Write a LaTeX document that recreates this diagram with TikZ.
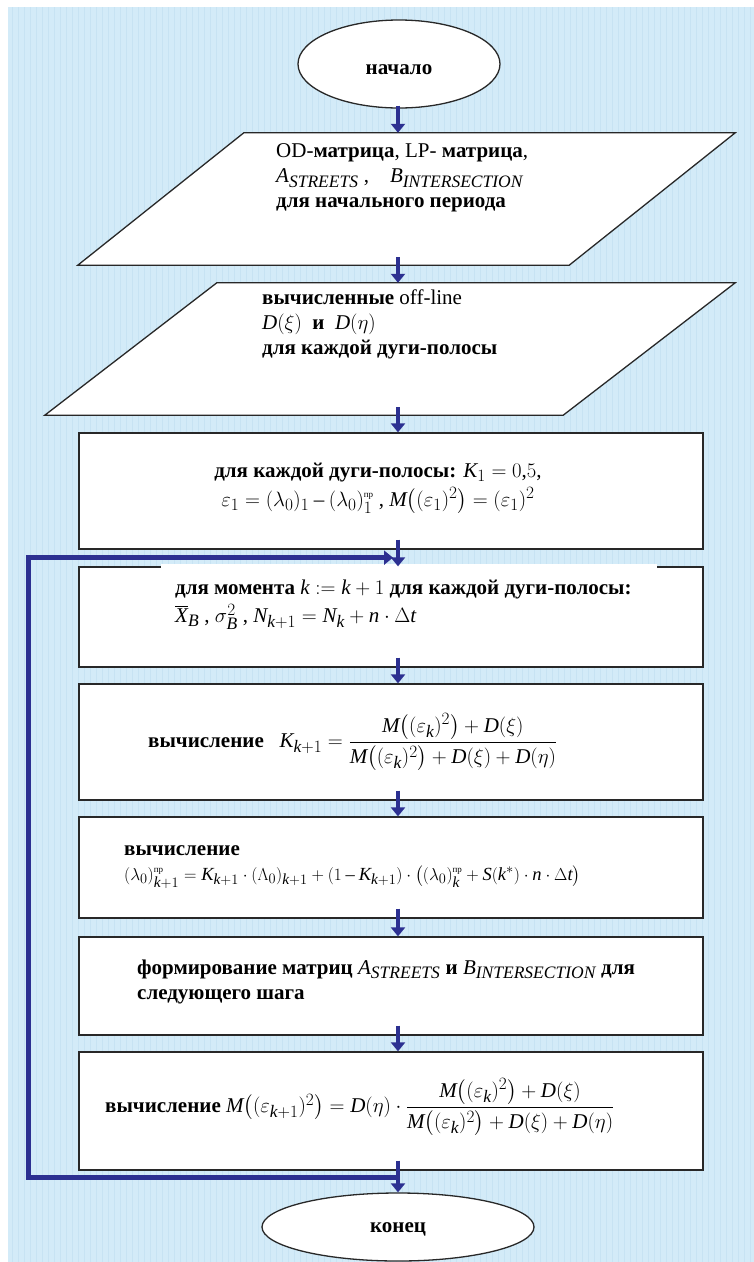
\documentclass[tikz,border=0pt]{standalone}
\usepackage{amsmath}
\usepackage{fontspec}
\setmainfont{Liberation Serif}
\usepackage[italic]{mathastext}
\usetikzlibrary{shapes.geometric,arrows.meta,calc}

\definecolor{bgblue}{RGB}{211,235,248}
\definecolor{bggrid}{RGB}{199,227,243}
\definecolor{flowblue}{RGB}{44,48,145}
\definecolor{edgegray}{RGB}{40,40,40}
\newcommand{\ru}[1]{\textbf{#1}}
\newcommand{\pr}{\mbox{\fontsize{9}{9}\selectfont пр}}

\begin{document}
\begin{tikzpicture}[
        x=1pt, y=-1pt,
        every node/.style={font=\fontsize{21}{25}\selectfont},
        terminal/.style={ellipse, draw=edgegray, fill=white, line width=1.3pt, inner sep=0pt},
        iobox/.style={rectangle, inner sep=0pt},
        ioline/.style={draw=edgegray, fill=white, line width=1.3pt},
        procbox/.style={rectangle, draw=edgegray, fill=white, line width=1.3pt, inner sep=0pt, minimum width=624pt},
        txt/.style={anchor=west, align=left, inner sep=0pt},
        flow/.style={draw=flowblue, line width=4.5pt, -{Triangle[length=9pt,width=14pt]}},
        loopline/.style={draw=flowblue, line width=5pt, -{Triangle[length=9pt,width=14pt]}}
    ]

    % background
    \useasboundingbox (0,0) rectangle (754,1262);
    \fill[white] (0,0) rectangle (754,1262);
    \fill[bgblue] (8,7) rectangle (754,1262);
    \draw[bggrid, line width=0.3pt, step=6] (8,7) grid (754,1262);
    \coordinate (col) at (398,0);

    % start
    \node[terminal, minimum width=202pt, minimum height=88pt] (start) at (399,64) {};
    \node[inner sep=0pt] (starttxt) at (399,70) {\ru{начало}};

    % input blocks (parallelograms over their bounding boxes)
    \node[iobox, minimum width=657pt, minimum height=132pt] (in1) at (406.5,199) {};
    \node[iobox, minimum width=690pt, minimum height=132pt] (in2) at (390,349) {};
    \foreach \n/\s in {in1/166, in2/172}
        \draw[ioline] ($(\n.north west)+(\s,0)$) -- (\n.north east)
            -- ($(\n.south east)+(-\s,0)$) -- (\n.south west) -- cycle;

    \node[txt] (in1txt) at (276,178) {OD-\ru{матрица}, LP- \ru{матрица},\\
        $A_{STREETS}$ ,\quad $B_{INTERSECTION}$\\
        \ru{для начального периода}};
    \node[txt] (in2txt) at (262,324) {\ru{вычисленные} off-line\\
        $D(\xi)$\ \ \ru{и}\ \ $D(\eta)$\\
        \ru{для каждой дуги-полосы}};

    % process blocks
    \node[procbox, minimum height=116pt] (init) at (391,491) {};
    \node[inner sep=0pt, align=center, font=\fontsize{21}{29}\selectfont] (inittxt) at (378,488)
        {\ru{для каждой дуги-полосы:} $K_1 = 0{,}5$,\\
        $\varepsilon_1 = (\lambda_0)_1 - (\lambda_0)_1^{\pr}$ , $M\big((\varepsilon_1)^2\big) = (\varepsilon_1)^2$};

    \node[procbox, minimum height=100pt] (upd) at (391,617) {};
    \fill[white] ($(upd.north west)+(83,-2)$) rectangle ($(upd.north east)+(-47,2)$);
    \node[txt, font=\fontsize{21}{28}\selectfont] (updtxt) at (175,605)
        {\ru{для момента} $k := k+1$\ \ru{для каждой дуги-полосы:}\\
        $\overline{X}_B$ ,\ $\sigma_B^2$ ,\ $N_{k+1} = N_k + n\cdot\Delta t$};

    \node[procbox, minimum height=116pt] (calcK) at (391,742) {};
    \node[txt] (calcKtxt) at (148,742) {\ru{вычисление}\ \ \ $K_{k+1} = \dfrac{M\big((\varepsilon_k)^2\big) + D(\xi)}{M\big((\varepsilon_k)^2\big) + D(\xi) + D(\eta)}$};

    \node[procbox, minimum height=101pt] (calcL) at (391,867.5) {};
    \node[txt] (calcLtxt) at (124,867) {\ru{вычисление}\\
        {\fontsize{18.5}{22}\selectfont $(\lambda_0)_{k+1}^{\pr} = K_{k+1}\cdot(\Lambda_0)_{k+1} + (1 - K_{k+1})\cdot\big((\lambda_0)_k^{\pr} + S(k^*)\cdot n\cdot\Delta t\big)$}};

    \node[procbox, minimum height=98pt] (form) at (391,986) {};
    \node[txt] (formtxt) at (137,982) {\ru{формирование матриц} $A_{STREETS}$ \ru{и} $B_{INTERSECTION}$ \ru{для}\\
        \ru{следующего шага}};

    \node[procbox, minimum height=118pt] (calcM) at (391,1111) {};
    \node[txt] (calcMtxt) at (105,1107) {\ru{вычисление} $M\big((\varepsilon_{k+1})^2\big) = D(\eta)\cdot\dfrac{M\big((\varepsilon_k)^2\big) + D(\xi)}{M\big((\varepsilon_k)^2\big) + D(\xi) + D(\eta)}$};

    % end
    \node[terminal, minimum width=272pt, minimum height=68pt] (stop) at (398,1227) {};
    \node[inner sep=0pt] (stoptxt) at (398,1229) {\ru{конец}};

    % connectors
    \draw[flow] ($(col |- start.south)+(0,-3)$) -- (col |- in1.north);
    \draw[flow] ($(col |- in1.south)+(0,-8)$) -- (col |- in2.north);
    \draw[flow] ($(col |- in2.south)+(0,-8)$) -- (col |- init.north);
    \foreach \a/\b in {init/upd, upd/calcK, calcK/calcL, calcL/form, form/calcM, calcM/stop}
        \draw[flow] ($(col |- \a.south)+(0,-10)$) -- (col |- \b.north);

    % feedback loop
    \coordinate (loopout) at ($(col |- calcM.south)+(0,7)$);
    \coordinate (loopin) at ($(col |- init.south)+(-5,8)$);
    \coordinate (loopx) at (28,0);
    \draw[loopline] (loopout) -- (loopout -| loopx) -- (loopin -| loopx) -- (loopin);

\end{tikzpicture}
\end{document}
